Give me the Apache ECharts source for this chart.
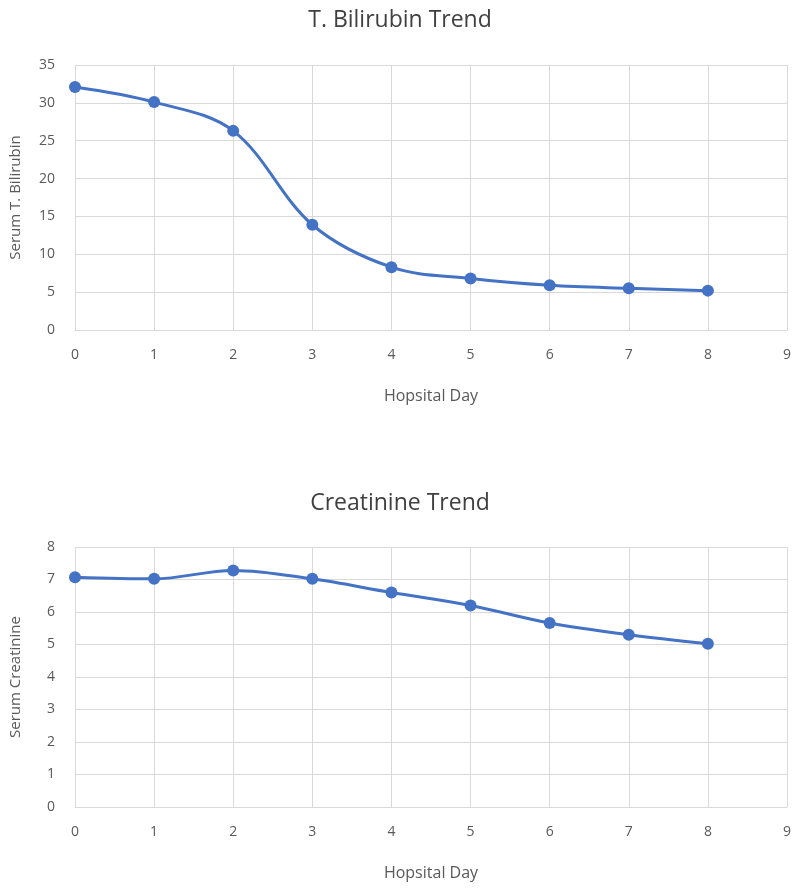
<!DOCTYPE html><html><head><meta charset="utf-8"><script src="https://cdn.jsdelivr.net/npm/echarts@6/dist/echarts.min.js"></script>
<style>body{margin:0;background:#fff}#c{width:800px;height:891px}</style></head><body><div id="c"></div><script>
const days=[0,1,2,3,4,5,6,7,8];
const bilirubin=[32.1,30.1,26.3,13.9,8.3,6.8,5.9,5.5,5.2];
const creatinine=[7.07,7.02,7.28,7.02,6.6,6.2,5.66,5.3,5.02];
const c=echarts.init(document.getElementById('c'));
const txt='#595959',font='Open Sans';
function xa(i){return {type:'value',gridIndex:i,min:0,max:9,interval:1,name:'Hopsital Day',nameLocation:'middle',nameGap:58,nameTextStyle:{color:txt,fontSize:16,fontFamily:font},axisLabel:{color:txt,fontSize:14,fontFamily:font,margin:18},axisLine:{lineStyle:{color:'#d9d9d9'}},axisTick:{show:false},splitLine:{lineStyle:{color:'#d9d9d9'}}};}
function ya(i,max,iv,name){return {type:'value',gridIndex:i,min:0,max:max,interval:iv,name:name,nameLocation:'middle',nameGap:52,nameTextStyle:{color:txt,fontSize:15,fontFamily:font},axisLabel:{color:txt,fontSize:14,fontFamily:font,margin:20},axisLine:{show:false},axisTick:{show:false},splitLine:{lineStyle:{color:'#d9d9d9'}}};}
function s(i,d){return {type:'line',xAxisIndex:i,yAxisIndex:i,smooth:0.35,data:days.map((x,k)=>[x,d[k]]),symbol:'circle',symbolSize:12,lineStyle:{color:'#4472C4',width:3},itemStyle:{color:'#4472C4'}};}
c.setOption({animation:false,
title:[{text:'T. Bilirubin Trend',left:'center',top:4,textStyle:{color:'#404040',fontSize:23,fontWeight:'normal',fontFamily:font}},
{text:'Creatinine Trend',left:'center',top:487,textStyle:{color:'#404040',fontSize:23,fontWeight:'normal',fontFamily:font}}],
grid:[{left:75,right:13,top:65,height:265},{left:75,right:13,top:547,height:260}],
xAxis:[xa(0),xa(1)],yAxis:[ya(0,35,5,'Serum T. Bilirubin'),ya(1,8,1,'Serum Creatinine')],
series:[s(0,bilirubin),s(1,creatinine)]});
</script></body></html>
